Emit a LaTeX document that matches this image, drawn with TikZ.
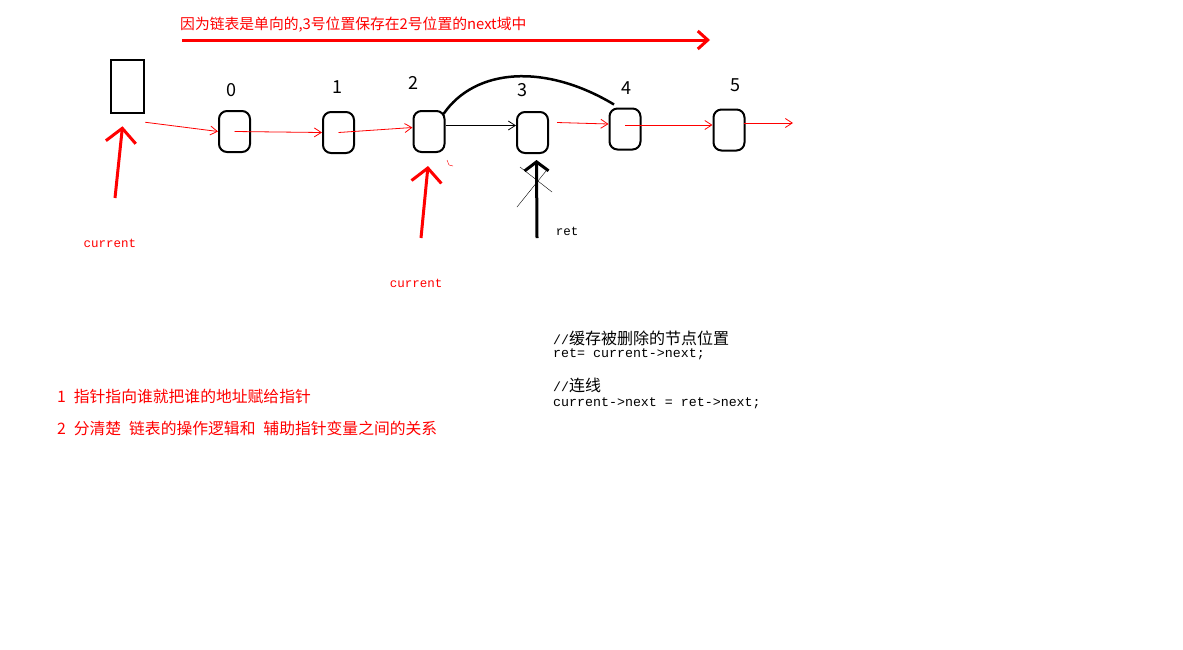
\documentclass[tikz,border=0pt]{standalone}
\usepackage{fontspec}
\setmainfont{Noto Sans CJK SC}
\newfontfamily\codefont{Liberation Mono}
\usetikzlibrary{arrows.meta}
\newcommand{\gap}{\hspace{0.5em}}
\begin{document}
\begin{tikzpicture}[
        x=1pt, y=-1pt,
        every path/.style={>={Straight Barb[length=7pt,width=9pt]}},
        cell/.style={draw,rounded corners=8pt,line width=2pt,minimum width=31pt,minimum height=41pt,inner sep=0pt},
        headbox/.style={draw,line width=2.5pt,minimum width=33pt,minimum height=53pt,inner sep=0pt},
        link/.style={->,red,line width=0.8pt},
        pointer/.style={-{Straight Barb[length=14pt,width=30pt]},red,line width=3pt},
        idx/.style={font=\fontsize{18}{18}\selectfont},
        note/.style={anchor=west,inner sep=0pt,red,font=\fontsize{15.8}{17}\selectfont},
        code/.style={anchor=west,inner sep=0pt,font=\fontsize{13.3}{16}\codefont}
        ]
        \useasboundingbox[fill=white] (0,0) rectangle (1183,649);

        % nodes
        \node[headbox] (head) at (127.5,86.5) {};
        \node[cell] (n0) at (234.5,131.5) {};
        \node[cell] (n1) at (338.5,132.5) {};
        \node[cell] (n2) at (429,131.5) {};
        \node[cell] (n3) at (532.5,132.5) {};
        \node[cell] (n4) at (625,129) {};
        \node[cell] (n5) at (729,130) {};
        \coordinate (end5) at (793,123);

        % labels
        \node[idx] (i0) at (231,90) {0};
        \node[idx] (i1) at (337,87) {1};
        \node[idx] (i2) at (413,83) {2};
        \node[idx] (i3) at (522,90) {3};
        \node[idx] (i4) at (626,88) {4};
        \node[idx] (i5) at (735,85) {5};

        % edges
        \draw[link] ([yshift=-8pt]head.south east) -- (n0.west);
        \draw[link] (n0.center) -- (n1.west);
        \draw[link] (n1.center) -- ([yshift=4pt]n2.west);
        \draw[->,line width=0.8pt] ([yshift=6pt]n2.east) -- ([yshift=7pt]n3.west);
        \draw[link] ([shift={(8,-10)}]n3.east) -- ([yshift=5pt]n4.west);
        \draw[link] ([yshift=4pt]n4.center) -- ([yshift=5pt]n5.west);
        \draw[link] ([shift={(-2,-7)}]n5.east) -- (end5);

        % new next pointer of 2
        \draw[line width=2.5pt] ([shift={(-2,4)}]n2.north east) .. controls (475,68) and (545,63) .. ([shift={(-11,-3)}]n4.north);

        % top note
        \node[note,font=\fontsize{14.8}{17}\selectfont] (title) at (180,25) {因为链表是单向的,3号位置保存在2号位置的next域中};
        \coordinate (ts) at (182,40);
        \coordinate (te) at (710,40);
        \draw[-{Straight Barb[length=10pt,width=18pt]},red,line width=3pt] (ts) -- (te);

        % pointers
        \node[red,font=\fontsize{12.5}{14}\codefont] (cur1) at (110,243) {current};
        \node[red,font=\fontsize{12.5}{14}\codefont] (cur2) at (416,283) {current};
        \node[font=\fontsize{12.5}{14}\codefont] (ret) at (567,231) {ret};
        \coordinate (c1) at (115,198);
        \coordinate (c2) at (421,238);
        \coordinate (r1) at (537,238);
        \draw[pointer] (c1) -- ([shift={(-5,12)}]head.south);
        \draw[pointer] (c2) -- ([shift={(-1,13)}]n2.south);
        \draw[-{Straight Barb[length=9pt,width=24pt]},line width=3pt] (r1) -- ([shift={(4,6)}]n3.south);
        \draw[thin] (517,207) -- (546,171);
        \draw[thin] (520,167) -- (552,192);
        \draw[red,thin] (447,160) -- (449,165) -- (453,166);

        % notes
        \node[note] (tip1) at (57,396) {1\gap 指针指向谁就把谁的地址赋给指针};
        \node[note] (tip2) at (57,428) {2\gap 分清楚\gap 链表的操作逻辑和\gap 辅助指针变量之间的关系};

        % code
        \node[code] (cm1) at (553,338) {//\fontsize{16}{16}\rmfamily 缓存被删除的节点位置};
        \node[code] (cd1) at (553,354) {ret= current->next;};
        \node[code] (cm2) at (553,385) {//\fontsize{16}{16}\rmfamily 连线};
        \node[code] (cd2) at (553,403) {current->next = ret->next;};

    \end{tikzpicture}
\end{document}
